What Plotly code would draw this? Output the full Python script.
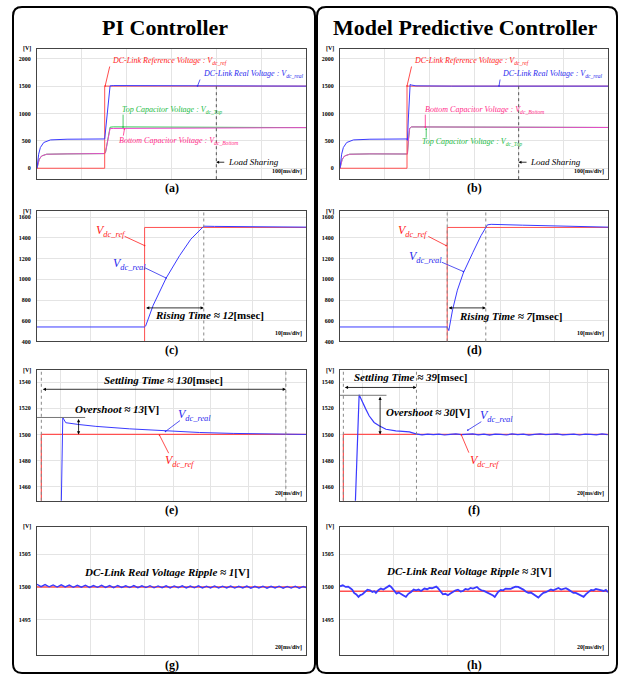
import plotly.graph_objects as go

W, H = 623, 678
FONT = "Liberation Serif, Times New Roman, serif"

RED, BLUE, GREEN, PINK = "#ff5050", "#3a3aff", "#33cc55", "#ee44cc"
RED_T, BLUE_T, GREEN_T, PINK_T = "#ff2020", "#2a2aee", "#22bb44", "#ff2a8a"

# ---------------- data (time in ms, voltage in V) ----------------
# (a) PI controller, full transient, 100 ms/div
a_ref_t = [0, 151, 151, 600]
a_ref_v = [0, 0, 1500, 1500]
a_real_t = [0, 1, 3.7, 7.5, 15, 30, 67, 151, 153, 156, 159, 163, 170, 250, 399, 401, 600]
a_real_v = [0, 110, 256, 379, 470, 518, 530, 535, 700, 1000, 1300, 1505, 1510, 1508, 1505, 1500, 1500]
a_cap_t = [0, 1.5, 5, 10.5, 21.6, 67, 151, 153, 158, 163, 170, 250, 399, 401, 600]
a_top_v = [0, 42, 165, 225, 256, 262, 268, 300, 550, 750, 756, 755, 754, 742, 742]
a_bot_v = [0, 42, 165, 225, 256, 262, 268, 300, 540, 725, 727, 728, 730, 742, 742]

# (b) MPC, full transient
b_ref_t = [0, 150, 150, 600]
b_ref_v = [0, 0, 1500, 1500]
b_real_t = [0, 1, 3.7, 7.5, 15, 30, 67, 150, 151, 153, 155, 157, 160, 170, 250, 600]
b_real_v = [0, 110, 256, 379, 470, 518, 530, 535, 510, 900, 1300, 1530, 1520, 1505, 1500, 1500]
b_cap_t = [0, 1.5, 5, 10.5, 21.6, 67, 150, 151, 153, 156, 160, 250, 399, 401, 600]
b_top_v = [0, 42, 165, 225, 256, 262, 268, 260, 500, 730, 755, 752, 752, 745, 745]
b_bot_v = [0, 42, 165, 225, 256, 262, 268, 260, 500, 730, 755, 752, 752, 745, 745]

# (c)/(d) rising, 10 ms/div
cd_ref_t = [0, 20, 20, 50]
cd_ref_v = [0, 0, 1500, 1500]
c_real_t = [0, 20, 20.2, 21.6, 24, 26.5, 28.6, 31, 33, 40, 50]
c_real_v = [540, 540, 550, 750, 1011, 1228, 1387, 1512, 1510, 1507, 1503]
d_real_t = [0, 20, 20.3, 21, 21.9, 23, 24.8, 26.3, 27.5, 28.2, 34, 41.6, 50]
d_real_v = [540, 540, 505, 705, 895, 1060, 1260, 1420, 1525, 1530, 1522, 1512, 1503]

# (e)/(f) settling, 20 ms/div
ef_ref_t = [-13, -10, -10, 132]
ef_ref_v = [0, 0, 1500, 1500]
e_real_t = [-13, -10, 1.4, 3, 10, 19, 37, 54.6, 74, 92, 110, 132]
e_real_v = [540, 540, 1513, 1509, 1507.6, 1506.2, 1504.3, 1502.7, 1501.5, 1500.8, 1500.3, 1500]
f_real_t = [-13, -10, -3.8, -1.6, 0.14, 1.97, 3.73, 6.4, 9.1, 12.7, 18, 25.2, 28.7,
            32, 35, 38, 41, 44, 47, 50, 53, 56, 59, 62, 65, 68, 71, 74, 77, 80, 83, 86,
            89, 92, 95, 98, 101, 104, 107, 110, 113, 116, 119, 122, 125, 128, 131]
f_real_v = [540, 540, 1440, 1530.4, 1524.5, 1519.4, 1514.3, 1509.2, 1506.7, 1504, 1502.8, 1502, 1500.5,
            1499.7, 1500.2, 1499.9, 1500.3, 1499.6, 1500.1, 1500.4, 1499.8, 1500.0, 1500.5, 1499.7,
            1500.2, 1499.5, 1500.3, 1500.0, 1499.6, 1500.4, 1499.9, 1500.2, 1499.5, 1500.1, 1500.4,
            1499.8, 1500.0, 1500.5, 1499.7, 1499.9, 1500.3, 1499.6, 1500.2, 1500.0, 1499.7, 1500.4, 1499.9]

# (g) PI steady-state ripple, 20 ms/div
g_t = [i * 1.5 for i in range(68)]
g_real_v = [1500.40, 1500.05, 1500.35, 1500.02, 1500.30, 1499.98, 1500.32, 1500.00, 1500.28, 1499.95,
            1500.25, 1499.97, 1500.27, 1499.93, 1500.22, 1499.95, 1500.25, 1499.92, 1500.20, 1499.90,
            1500.22, 1499.93, 1500.18, 1499.90, 1500.20, 1499.88, 1500.17, 1499.90, 1500.19, 1499.87,
            1500.15, 1499.89, 1500.18, 1499.86, 1500.15, 1499.88, 1500.16, 1499.85, 1500.13, 1499.87,
            1500.16, 1499.84, 1500.12, 1499.86, 1500.15, 1499.84, 1500.12, 1499.85, 1500.14, 1499.83,
            1500.10, 1499.85, 1500.13, 1499.82, 1500.10, 1499.84, 1500.12, 1499.82, 1500.09, 1499.84,
            1500.12, 1499.81, 1500.08, 1499.83, 1500.11, 1499.80, 1500.07, 1499.82]
g_ref_t = [0, 100]
g_ref_v = [1500, 1500]

# (h) MPC steady-state ripple
h_t = [0, 1.05, 2.1, 3.05, 4.0, 4.6, 5.25, 6.1, 6.9, 7.6, 8.4, 9.3, 10.25, 11.2, 12.1, 12.8, 13.4,
       14.3, 15.25, 16.2, 17.1, 17.8, 18.4, 19.0, 19.6, 20.4, 21.1, 21.9, 22.75, 23.7, 24.6, 25.5,
       26.5, 27.5, 28.4, 29.3, 30.25, 30.9, 31.5, 32.5, 33.4, 34.3, 35.25, 35.9, 36.5, 37.5, 38.4,
       39.3, 40.25, 41.2, 42.1, 43.0, 44, 45, 45.9, 46.8, 47.75, 48.7, 49.6, 50.4, 51.1, 51.9, 52.75,
       53.7, 54.6, 55.5, 56.5, 57.1, 57.75, 58.4, 59, 60.0, 60.9, 61.8, 62.75, 63.7, 64.6, 65.5, 66.5,
       67.5, 68.4, 69.3, 70.25, 71.2, 72.1, 73.0, 74, 75.0, 75.9, 76.8, 77.75, 78.7, 79.6, 80.5, 81.5,
       82.5, 83.4, 84.3, 85.25, 86.2, 87.1, 88.0, 89, 90.0, 90.9, 91.8, 92.75, 93.7, 94.6, 95.5, 96.5,
       97.5, 98.4, 99.2, 100]
h_real_v = [1500.10, 1500.25, 1500.00, 1500.05, 1499.75, 1499.55, 1499.09, 1498.85, 1498.48, 1498.75,
            1498.88, 1499.30, 1499.59, 1499.50, 1499.24, 1499.35, 1499.09, 1499.50, 1499.75, 1499.60,
            1499.85, 1500.05, 1500.20, 1500.05, 1499.75, 1499.30, 1498.98, 1499.15, 1498.88, 1498.70,
            1498.48, 1498.95, 1499.24, 1499.60, 1499.49, 1499.60, 1499.39, 1499.60, 1499.75, 1499.65,
            1499.85, 1499.80, 1500.00, 1500.05, 1499.85, 1499.30, 1498.88, 1498.95, 1498.73, 1499.00,
            1499.24, 1499.45, 1499.59, 1499.30, 1499.39, 1499.70, 1499.59, 1499.85, 1499.75, 1499.95,
            1500.00, 1499.70, 1499.49, 1499.40, 1499.24, 1499.10, 1498.88, 1498.70, 1498.48, 1498.95,
            1499.24, 1499.55, 1499.49, 1499.75, 1499.75, 1499.70, 1499.90, 1500.05, 1500.00, 1499.80,
            1499.59, 1499.30, 1499.09, 1499.15, 1498.88, 1498.70, 1498.38, 1498.80, 1499.09, 1499.20,
            1499.39, 1499.60, 1499.49, 1499.70, 1499.85, 1499.60, 1499.75, 1499.80, 1499.59, 1499.30,
            1499.09, 1499.10, 1498.88, 1498.70, 1498.48, 1498.90, 1499.24, 1499.55, 1499.49, 1499.70,
            1499.59, 1499.50, 1499.39, 1499.55, 1499.19]
h_ref_t = [0, 100]
h_ref_v = [1499.35, 1499.35]

# axis setup: k -> (x px left,right), (y px top,bottom), xrange, yrange, xdtick, x tick0, yticks
LX, RX = (37, 306), (340, 608)
ROWS = [(49, 180), (212, 343), (372, 503), (529, 658)]
panels = {
    1: (LX, ROWS[0], [0, 600], [-200, 2182], 100, 0, [0, 500, 1000, 1500, 2000], "(a)", "100[ms/div]"),
    2: (RX, ROWS[0], [0, 600], [-200, 2182], 100, 0, [0, 500, 1000, 1500, 2000], "(b)", "100[ms/div]"),
    3: (LX, ROWS[1], [0, 50], [400, 1658], 10, 0, [400, 600, 800, 1000, 1200, 1400, 1600], "(c)", "10[ms/div]"),
    4: (RX, ROWS[1], [0, 50], [400, 1658], 10, 0, [400, 600, 800, 1000, 1200, 1400, 1600], "(d)", "10[ms/div]"),
    5: (LX, ROWS[2], [-12.3, 130.7], [1449.2, 1549.1], 20, 0, [1460, 1480, 1500, 1520, 1540], "(e)", "20[ms/div]"),
    6: (RX, ROWS[2], [-11.8, 131.2], [1449.2, 1549.1], 20, 0, [1460, 1480, 1500, 1520, 1540], "(f)", "20[ms/div]"),
    7: (LX, ROWS[3], [0, 100], [1489.6, 1509.2], 20, 0, [1495, 1500, 1505], "(g)", "20[ms/div]"),
    8: (RX, ROWS[3], [0, 100], [1489.6, 1509.2], 20, 0, [1495, 1500, 1505], "(h)", "20[ms/div]"),
}


def xn(k):
    return "x" if k == 1 else f"x{k}"


def yn(k):
    return "y" if k == 1 else f"y{k}"


fig = go.Figure()
layout = dict(width=W, height=H, margin=dict(l=0, r=0, t=0, b=0), showlegend=False,
              paper_bgcolor="white", plot_bgcolor="white", font=dict(family=FONT, color="black"))
annotations = []
shapes = []

for k, (xp, yp, xr, yr, xdt, x0, yt, lab, scale) in panels.items():
    sx = "" if k == 1 else str(k)
    layout["xaxis" + sx] = dict(domain=[xp[0] / W, xp[1] / W], range=xr, anchor=yn(k),
                                showticklabels=False, ticks="", tick0=x0, dtick=xdt,
                                showgrid=True, gridcolor="#e4e4e4", gridwidth=1, zeroline=False,
                                showline=True, mirror=True, linecolor="#444", linewidth=1)
    layout["yaxis" + sx] = dict(domain=[1 - yp[1] / H, 1 - yp[0] / H], range=yr, anchor=xn(k),
                                tickvals=yt, ticks="", ticklabelstandoff=4,
                                tickfont=dict(family=FONT, size=6, weight="bold"),
                                showgrid=True, gridcolor="#e4e4e4", gridwidth=1, zeroline=False,
                                showline=True, mirror=True, linecolor="#444", linewidth=1)
    dx = xn(k) + " domain"
    dy = yn(k) + " domain"
    annotations.append(dict(xref=dx, yref=dy, x=0, y=1, xanchor="right", yanchor="middle", xshift=-4,
                            text="<b>[V]</b>", showarrow=False, font=dict(size=6, family=FONT)))
    annotations.append(dict(xref=dx, yref=dy, x=1, y=0, xanchor="right", yanchor="bottom", xshift=-2, yshift=2,
                            text="<b>" + scale + "</b>", showarrow=False, font=dict(size=6, family=FONT)))
    annotations.append(dict(xref=dx, yref=dy, x=0.5, y=0, xanchor="center", yanchor="middle",
                            yshift=-10 if k > 6 else -9,
                            text="<b>" + lab + "</b>", showarrow=False, font=dict(size=12, family=FONT)))


def line(k, t, v, color, width=1.0):
    fig.add_trace(go.Scatter(x=t, y=v, mode="lines", line=dict(color=color, width=width),
                             xaxis=xn(k), yaxis=yn(k), hoverinfo="skip"))


# (a)
line(1, a_cap_t, a_top_v, GREEN)
line(1, a_cap_t, a_bot_v, PINK)
line(1, a_ref_t, a_ref_v, RED)
line(1, a_real_t, a_real_v, BLUE)
# (b)
line(2, b_cap_t, b_top_v, GREEN)
line(2, b_cap_t, b_bot_v, PINK)
line(2, b_ref_t, b_ref_v, RED)
line(2, b_real_t, b_real_v, BLUE)
# (c),(d)
line(3, cd_ref_t, cd_ref_v, RED)
line(3, c_real_t, c_real_v, BLUE)
line(4, cd_ref_t, cd_ref_v, RED)
line(4, d_real_t, d_real_v, BLUE)
# (e),(f)
line(5, ef_ref_t, ef_ref_v, RED, 1.2)
line(5, e_real_t, e_real_v, BLUE)
line(6, ef_ref_t, ef_ref_v, RED, 1.2)
line(6, f_real_t, f_real_v, BLUE, 1.2)
# (g),(h)
line(7, g_ref_t, g_ref_v, RED, 1.6)
line(7, g_t, g_real_v, BLUE, 1.4)
line(8, h_ref_t, h_ref_v, RED, 1.6)
line(8, h_t, h_real_v, BLUE, 1.8)


def vdot(k, x, y0=None, y1=None, color="#888"):
    if y0 is None:
        shapes.append(dict(type="line", xref=xn(k), yref=yn(k) + " domain", x0=x, x1=x, y0=0, y1=1,
                           line=dict(color=color, width=1, dash="dot")))
    else:
        shapes.append(dict(type="line", xref=xn(k), yref=yn(k), x0=x, x1=x, y0=y0, y1=y1,
                           line=dict(color=color, width=1, dash="dot")))


vdot(1, 400, -200, 1500, "#555")
vdot(2, 400, -200, 1500, "#555")
vdot(3, 31)
vdot(4, 20)
vdot(4, 27.2)
vdot(5, -10)
vdot(5, 120)
vdot(6, -10)
vdot(6, 29)

# overshoot reference lines
shapes.append(dict(type="line", xref="x5", yref="y5", x0=-12.3, x1=13.3, y0=1513, y1=1513,
                   line=dict(color="#777", width=1)))
shapes.append(dict(type="line", xref="x6", yref="y6", x0=-11.8, x1=13, y0=1530, y1=1530,
                   line=dict(color="#777", width=1)))


def txt(k, x, y, text, size, color="black", xanchor="center"):
    annotations.append(dict(xref=xn(k), yref=yn(k), x=x, y=y, text=text, showarrow=False,
                            xanchor=xanchor, yanchor="middle", font=dict(size=size, color=color, family=FONT)))


def leader(k, hx, hy, tx, ty, color):
    annotations.append(dict(xref=xn(k), yref=yn(k), axref=xn(k), ayref=yn(k), x=hx, y=hy, ax=tx, ay=ty,
                            text="", showarrow=True, arrowhead=6, arrowsize=0.5, arrowwidth=0.8,
                            arrowcolor=color))


def darrow(k, x0, y0, x1, y1):
    annotations.append(dict(xref=xn(k), yref=yn(k), axref=xn(k), ayref=yn(k), x=x1, y=y1, ax=x0, ay=y0,
                            text="", showarrow=True, arrowhead=2, arrowsize=0.8, arrowwidth=0.8,
                            arrowside="end+start", startarrowhead=2, startarrowsize=0.8, arrowcolor="black"))


def larrow(k, hx, tx, y):
    annotations.append(dict(xref=xn(k), yref=yn(k), axref=xn(k), ayref=yn(k), x=hx, y=y, ax=tx, ay=y,
                            text="", showarrow=True, arrowhead=2, arrowsize=0.7, arrowwidth=0.8,
                            arrowcolor="black"))


# (a) annotations
txt(1, 163, 1960, "<i>DC-Link Reference Voltage : V<sub>dc_ref</sub></i>", 8, RED_T, "left")
leader(1, 152, 1502, 163, 1886, RED_T)
txt(1, 365, 1722, "<i>DC-Link Real Voltage : V<sub>dc_real</sub></i>", 8, BLUE_T, "left")
leader(1, 358, 1502, 365, 1648, BLUE_T)
txt(1, 186, 1062, "<i>Top Capacitor Voltage : V<sub>dc_Top</sub></i>", 8, GREEN_T, "left")
leader(1, 192, 751, 192, 1007, GREEN_T)
txt(1, 179, 495, "<i>Bottom Capacitor Voltage : V<sub>dc_Bottom</sub></i>", 8, PINK_T, "left")
leader(1, 195, 714, 192, 568, PINK_T)
txt(1, 421, 110, "<i>Load Sharing</i>", 9, "black", "left")
larrow(1, 400, 421, 110)
# (b) annotations
txt(2, 161, 1960, "<i>DC-Link Reference Voltage : V<sub>dc_ref</sub></i>", 8, RED_T, "left")
leader(2, 150, 1502, 161, 1886, RED_T)
txt(2, 359, 1722, "<i>DC-Link Real Voltage : V<sub>dc_real</sub></i>", 8, BLUE_T, "left")
leader(2, 356, 1502, 359, 1648, BLUE_T)
txt(2, 186, 1062, "<i>Bottom Capacitor Voltage : V<sub>dc_Bottom</sub></i>", 8, PINK_T, "left")
leader(2, 191, 751, 191, 1007, PINK_T)
txt(2, 179, 476, "<i>Top Capacitor Voltage : V<sub>dc_Top</sub></i>", 8, GREEN_T, "left")
leader(2, 193, 714, 193, 531, GREEN_T)
txt(2, 421, 110, "<i>Load Sharing</i>", 9, "black", "left")
larrow(2, 400, 421, 110)

# (c)
txt(3, 13.7, 1466, "<i>V<sub>dc_ref</sub></i>", 12, RED_T)
leader(3, 20, 1325, 16.0, 1421, RED_T)
txt(3, 17.2, 1149, "<i>V<sub>dc_real</sub></i>", 12, BLUE_T)
leader(3, 24, 1012, 19.8, 1117, BLUE_T)
darrow(3, 20, 724, 31, 724)
txt(3, 21.6, 653, "<b><i>Rising Time ≈ 12</i>[msec]</b>", 11, "black", "left")
# (d)
txt(4, 13.7, 1463, "<i>V<sub>dc_ref</sub></i>", 12, RED_T)
leader(4, 19.8, 1325, 16.2, 1421, RED_T)
txt(4, 15.9, 1213, "<i>V<sub>dc_real</sub></i>", 12, BLUE_T)
leader(4, 23, 1075, 18.7, 1171, BLUE_T)
darrow(4, 20, 724, 27.2, 724)
txt(4, 21.9, 643, "<b><i>Rising Time ≈ 7</i>[msec]</b>", 11, "black", "left")

# (e)
darrow(5, -10, 1534.6, 120, 1534.6)
txt(5, 55, 1541.5, "<b><i>Settling Time ≈ 130</i>[msec]</b>", 11)
darrow(5, 9.8, 1513, 9.8, 1500)
txt(5, 30, 1519.2, "<b><i>Overshoot ≈ 13</i>[V]</b>", 11)
txt(5, 71.5, 1514.6, "<i>V<sub>dc_real</sub></i>", 12, BLUE_T)
leader(5, 56, 1502.3, 64.5, 1511.5, BLUE_T)
txt(5, 63.5, 1480, "<i>V<sub>dc_ref</sub></i>", 12, RED_T)
leader(5, 52.8, 1499.5, 58.1, 1484.5, RED_T)
# (f)
darrow(6, -10, 1536, 29, 1536)
txt(6, -5.5, 1543.7, "<b><i>Settling Time ≈ 39</i>[msec]</b>", 11, "black", "left")
darrow(6, 9.6, 1530, 9.6, 1500)
txt(6, 11.8, 1516.9, "<b><i>Overshoot ≈ 30</i>[V]</b>", 11, "black", "left")
txt(6, 71.5, 1513.8, "<i>V<sub>dc_real</sub></i>", 12, BLUE_T)
leader(6, 56.4, 1503.3, 64.4, 1510.5, BLUE_T)
txt(6, 65.3, 1480, "<i>V<sub>dc_ref</sub></i>", 12, RED_T)
leader(6, 52.9, 1499.8, 57.3, 1484.9, RED_T)

# (g),(h)
txt(7, 48.5, 1502.3, "<b><i>DC-Link Real Voltage Ripple ≈ 1</i>[V]</b>", 11)
txt(8, 48.3, 1502.4, "<b><i>DC-Link Real Voltage Ripple ≈ 3</i>[V]</b>", 11)

# column titles
annotations.append(dict(xref="paper", yref="paper", x=165 / W, y=1 - 28 / H, text="<b>PI Controller</b>",
                        showarrow=False, xanchor="center", yanchor="middle", font=dict(size=22, family=FONT)))
annotations.append(dict(xref="paper", yref="paper", x=465 / W, y=1 - 28 / H,
                        text="<b>Model Predictive Controller</b>",
                        showarrow=False, xanchor="center", yanchor="middle", font=dict(size=22, family=FONT)))


def rbox(x0, y0, x1, y1, r=9):
    def P(x, y):
        return f"{x / W:.5f},{1 - y / H:.5f}"
    path = (f"M {P(x0 + r, y0)} L {P(x1 - r, y0)} Q {P(x1, y0)} {P(x1, y0 + r)} "
            f"L {P(x1, y1 - r)} Q {P(x1, y1)} {P(x1 - r, y1)} L {P(x0 + r, y1)} "
            f"Q {P(x0, y1)} {P(x0, y1 - r)} L {P(x0, y0 + r)} Q {P(x0, y0)} {P(x0 + r, y0)} Z")
    shapes.append(dict(type="path", xref="paper", yref="paper", path=path,
                       line=dict(color="black", width=2)))


rbox(13, 7, 315, 676)
rbox(317, 7, 617, 676)

layout["annotations"] = annotations
layout["shapes"] = shapes
fig.update_layout(**layout)
fig.write_html("out.html", config={"displayModeBar": False},
               post_script="document.body.style.margin='0';document.body.style.padding='0';"
                           "document.body.style.overflow='hidden';")
